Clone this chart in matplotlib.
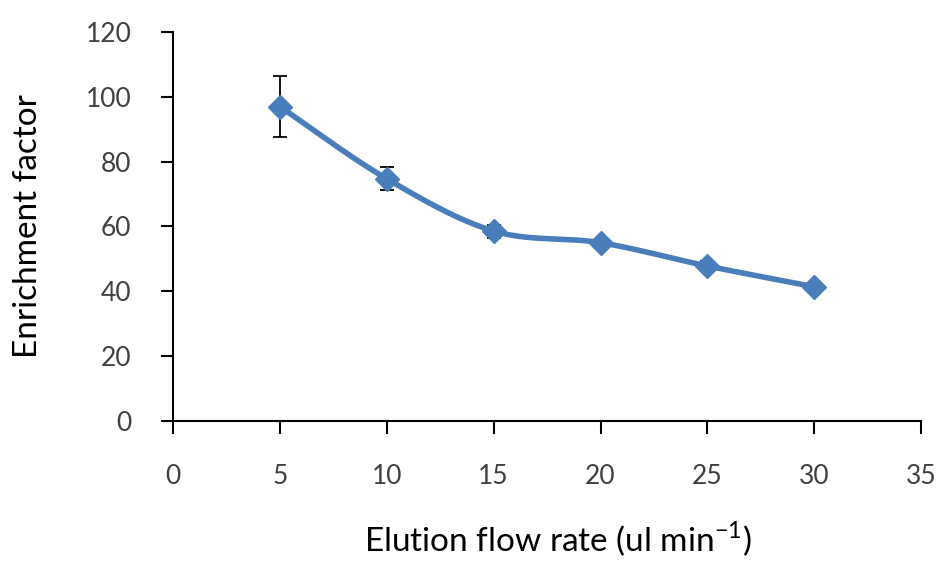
import numpy as np
import matplotlib
matplotlib.use("Agg")
import matplotlib.pyplot as plt

flow_rate = [5, 10, 15, 20, 25, 30]
enrichment = [97.0, 74.7, 58.6, 55.0, 47.8, 41.4]
err = [9.3, 3.6, 2.0, 0.8, 1.5, 0.6]
x_ticks = [0, 5, 10, 15, 20, 25, 30, 35]
y_ticks = [0, 20, 40, 60, 80, 100, 120]

plt.rcParams['font.family'] = ['Lato', 'DejaVu Sans']
plt.rcParams['mathtext.fontset'] = 'custom'
plt.rcParams['mathtext.rm'] = 'Lato'

def catmull_rom(xs, ys, n=30):
    xs = np.asarray(xs, float); ys = np.asarray(ys, float)
    P = np.column_stack([xs, ys])
    P = np.vstack([P[0], P, P[-1]])
    out = []
    for i in range(1, len(P) - 2):
        p0, p1, p2, p3 = P[i - 1], P[i], P[i + 1], P[i + 2]
        t = np.linspace(0, 1, n)[:, None]
        seg = 0.5 * ((2 * p1) + (-p0 + p2) * t + (2 * p0 - 5 * p1 + 4 * p2 - p3) * t ** 2
                     + (-p0 + 3 * p1 - 3 * p2 + p3) * t ** 3)
        out.append(seg if i == 1 else seg[1:])
    out = np.vstack(out)
    return out[:, 0], out[:, 1]

fig = plt.figure(figsize=(9.4, 5.65), dpi=100)
ax = fig.add_axes([0.184, 0.2549, 0.796, 0.6885])

color = '#4A7EBB'
sx, sy = catmull_rom(flow_rate, enrichment)
ax.plot(sx, sy, color=color, lw=4, solid_capstyle='round', zorder=3)
ax.errorbar(flow_rate, enrichment, yerr=err, fmt='none', ecolor='black',
            elinewidth=1.3, capsize=5, capthick=1.3, zorder=2)
ax.plot(flow_rate, enrichment, linestyle='none', marker='D', markersize=12.5,
        color=color, zorder=4)

ax.set_xlim(0, 35)
ax.set_ylim(0, 120)
ax.set_xticks(x_ticks)
ax.set_yticks(y_ticks)
for s in ['top', 'right']:
    ax.spines[s].set_visible(False)
for s in ['left', 'bottom']:
    ax.spines[s].set_linewidth(1.5)
ax.tick_params(axis='both', direction='out', length=9, width=1.5,
               labelsize=19, labelcolor='#404040')
ax.tick_params(axis='x', pad=22)
ax.tick_params(axis='y', pad=21)

ax.set_xlabel('Elution flow rate (ul min$^{\\mathregular{-1}}$)', fontsize=24,
              color='black', va='baseline')
ax.set_ylabel('Enrichment factor', fontsize=24, color='black')
ax.xaxis.set_label_coords(0.514, -0.337)
ax.yaxis.set_label_coords(-0.174, 0.5)

fig.savefig('out.png', dpi=100)
